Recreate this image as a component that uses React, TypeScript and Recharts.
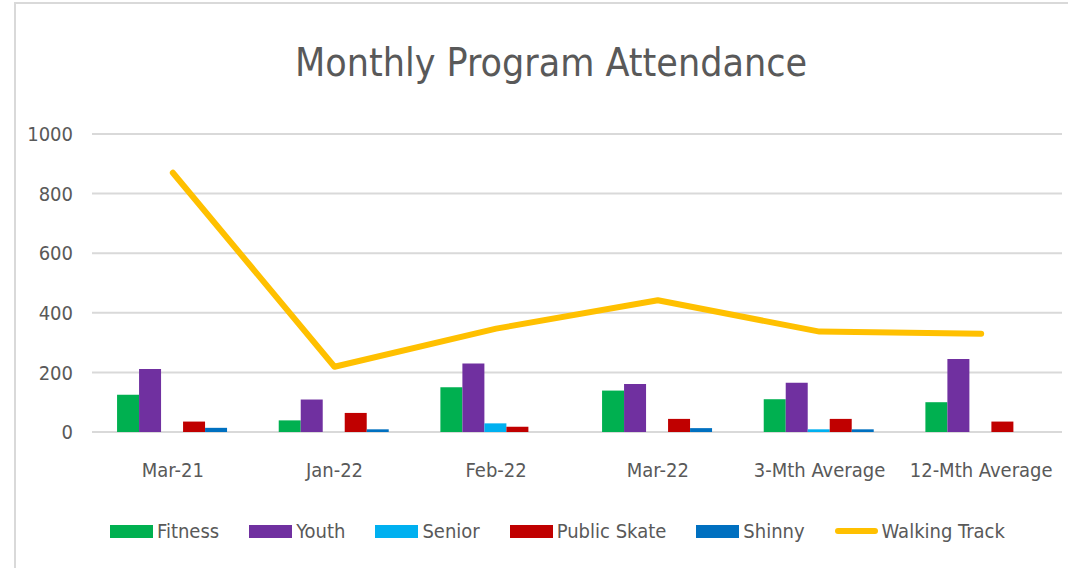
import React from 'react'
import {
  ComposedChart,
  Bar,
  Line,
  XAxis,
  YAxis,
  CartesianGrid,
  Legend,
} from 'recharts'

const categories = ['Mar-21', 'Jan-22', 'Feb-22', 'Mar-22', '3-Mth Average', '12-Mth Average']
const fitness = [125, 39, 150, 139, 110, 100]
const youth = [211, 109, 230, 161, 165, 245]
const senior = [0, 0, 29, 0, 9, 0]
const publicSkate = [35, 64, 18, 44, 44, 35]
const shinny = [14, 9, 0, 13, 9, 0]
const walkingTrack = [870, 219, 347, 442, 337, 330]
const yTicks = [0, 200, 400, 600, 800, 1000]

const series = [
  { key: 'fitness', name: 'Fitness', color: '#00B050' },
  { key: 'youth', name: 'Youth', color: '#7030A0' },
  { key: 'senior', name: 'Senior', color: '#00B0F0' },
  { key: 'publicSkate', name: 'Public Skate', color: '#C00000' },
  { key: 'shinny', name: 'Shinny', color: '#0070C0' },
]

const data = categories.map((month, i) => ({
  month,
  fitness: fitness[i],
  youth: youth[i],
  senior: senior[i],
  publicSkate: publicSkate[i],
  shinny: shinny[i],
  walkingTrack: walkingTrack[i],
}))

const FONT = '"DejaVu Sans Condensed", "Open Sans", sans-serif'
const TEXT = '#595959'

function LegendRow() {
  const items = [
    ...series.map((s) => ({ name: s.name, color: s.color, line: false })),
    { name: 'Walking Track', color: '#FFC000', line: true },
  ]
  return (
    <div
      style={{
        display: 'flex',
        alignItems: 'center',
        gap: 30,
        fontFamily: FONT,
        fontSize: 20,
        color: TEXT,
        whiteSpace: 'nowrap',
      }}
    >
      {items.map((it) => (
        <div key={it.name} style={{ display: 'flex', alignItems: 'center', gap: 4 }}>
          <span
            style={{
              display: 'inline-block',
              width: 43,
              height: it.line ? 6 : 13,
              borderRadius: it.line ? 3 : 0,
              background: it.color,
            }}
          />
          <span>{it.name}</span>
        </div>
      ))}
    </div>
  )
}

export default function App() {
  return (
    <div
      style={{
        position: 'fixed',
        left: 0,
        top: 0,
        width: 1068,
        height: 568,
        background: '#fff',
        overflow: 'hidden',
      }}
    >
      <div
        style={{
          position: 'absolute',
          left: 14,
          top: 2,
          right: 0,
          bottom: 0,
          borderTop: '2px solid #d9d9d9',
          borderLeft: '2px solid #d9d9d9',
        }}
      />
      <div
        style={{
          position: 'absolute',
          top: 40,
          left: 0,
          width: 1102,
          textAlign: 'center',
          fontFamily: FONT,
          fontSize: 39,
          color: TEXT,
          whiteSpace: 'nowrap',
        }}
      >
        Monthly Program Attendance
      </div>
      <ComposedChart
        width={1068}
        height={568}
        data={data}
        margin={{ top: 134, right: 6, bottom: 0, left: 0 }}
        barCategoryGap="15.5%"
        barGap={0}
        style={{ position: 'absolute', left: 0, top: 0 }}
      >
        <CartesianGrid vertical={false} stroke="#d9d9d9" strokeWidth={2} />
        <XAxis
          dataKey="month"
          height={136}
          axisLine={false}
          tickLine={false}
          tickSize={0}
          tickMargin={31}
          interval={0}
          tick={{ fill: TEXT, fontSize: 20, fontFamily: FONT }}
        />
        <YAxis
          width={92}
          domain={[0, 1000]}
          ticks={yTicks}
          axisLine={false}
          tickLine={false}
          tickSize={0}
          tickMargin={19}
          tick={{ fill: TEXT, fontSize: 20, fontFamily: FONT }}
        />
        {series.map((s) => (
          <Bar key={s.key} dataKey={s.key} name={s.name} fill={s.color} isAnimationActive={false} />
        ))}
        <Line
          type="linear"
          dataKey="walkingTrack"
          name="Walking Track"
          stroke="#FFC000"
          strokeWidth={6}
          strokeLinecap="round"
          strokeLinejoin="round"
          dot={false}
          activeDot={false}
          isAnimationActive={false}
        />
        <Legend
          verticalAlign="middle"
          align="center"
          content={() => <LegendRow />}
          wrapperStyle={{ top: 519, left: 110, width: 950 }}
        />
      </ComposedChart>
    </div>
  )
}
